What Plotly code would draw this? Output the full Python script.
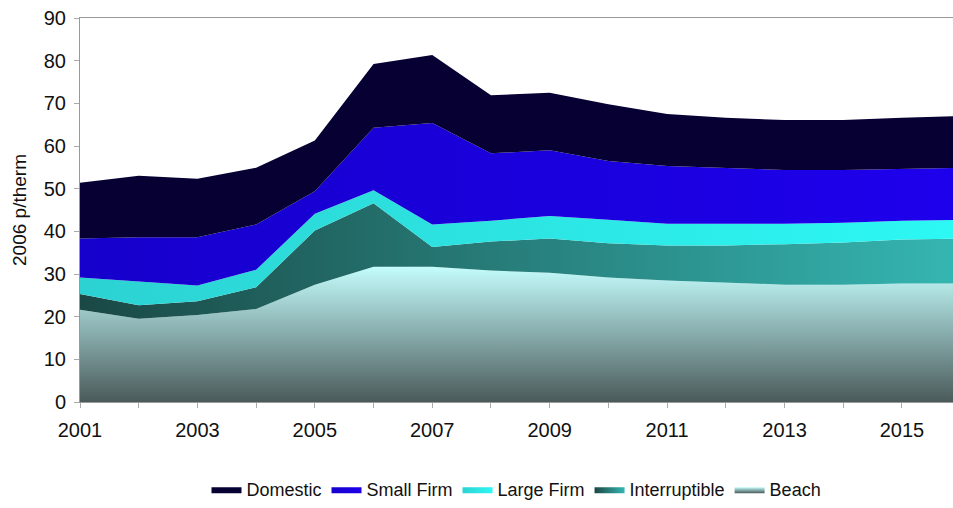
import plotly.graph_objects as go

years = list(range(2001, 2017))

beach = [21.6, 19.5, 20.4, 21.8, 27.5, 31.7, 31.7, 30.8, 30.3, 29.2, 28.5, 28.0, 27.5, 27.5, 27.8, 27.8]
interruptible = [3.7, 3.2, 3.2, 5.1, 12.7, 14.9, 4.6, 6.8, 8.0, 8.0, 8.2, 8.7, 9.5, 9.9, 10.3, 10.5]
large_firm = [3.9, 5.5, 3.7, 4.1, 3.9, 3.0, 5.3, 4.9, 5.3, 5.5, 5.1, 5.1, 4.8, 4.6, 4.4, 4.4]
small_firm = [9.1, 10.4, 11.3, 10.6, 5.3, 14.7, 23.8, 15.8, 15.4, 13.8, 13.5, 13.1, 12.6, 12.4, 12.1, 12.2]
domestic = [13.1, 14.4, 13.7, 13.3, 11.9, 14.9, 15.9, 13.6, 13.5, 13.3, 12.2, 11.7, 11.7, 11.7, 12.0, 12.1]

x_tick_vals = list(range(2001, 2017))
x_tick_text = [str(y) if (y - 2001) % 2 == 0 else "" for y in x_tick_vals]

FONT = "Liberation Sans, Arial, sans-serif"

fig = go.Figure()

fig.add_trace(go.Scatter(
    x=years, y=beach, name="Beach", stackgroup="s", mode="lines",
    line=dict(width=0),
    fillgradient=dict(type="vertical", start=0, stop=31.7,
                      colorscale=[[0, "#4a5a5a"], [1, "#c4fcfc"]]),
))
fig.add_trace(go.Scatter(
    x=years, y=interruptible, name="Interruptible", stackgroup="s", mode="lines",
    line=dict(width=0),
    fillgradient=dict(type="horizontal", start=2001, stop=2016,
                      colorscale=[[0, "#1a4845"], [1, "#35b6b2"]]),
))
fig.add_trace(go.Scatter(
    x=years, y=large_firm, name="Large Firm", stackgroup="s", mode="lines",
    line=dict(width=0),
    fillgradient=dict(type="horizontal", start=2001, stop=2016,
                      colorscale=[[0, "#2cd2d2"], [1, "#2cf8f4"]]),
))
fig.add_trace(go.Scatter(
    x=years, y=small_firm, name="Small Firm", stackgroup="s", mode="lines",
    line=dict(width=0),
    fillgradient=dict(type="horizontal", start=2001, stop=2016,
                      colorscale=[[0, "#1600cc"], [1, "#1e00ec"]]),
))
fig.add_trace(go.Scatter(
    x=years, y=domestic, name="Domestic", stackgroup="s", mode="lines",
    line=dict(width=0), fillcolor="#060033",
))

fig.update_layout(
    width=953, height=508,
    margin=dict(l=80, r=0, t=18, b=91),
    paper_bgcolor="white", plot_bgcolor="white",
    font=dict(family=FONT, size=20, color="#111111"),
    showlegend=True,
    legend=dict(orientation="h", x=0.5, xanchor="center", y=-0.228, yanchor="middle",
                traceorder="reversed", font=dict(size=18, family=FONT),
                itemwidth=30, bgcolor="rgba(0,0,0,0)"),
    xaxis=dict(range=[2001, 2015.87], tickmode="array", tickvals=x_tick_vals,
               ticktext=x_tick_text, ticks="outside", ticklen=5, tickcolor="#aaaaaa",
               showline=True, linecolor="#999999", linewidth=1, mirror=True,
               showgrid=False, zeroline=False, tickfont=dict(size=20),
               ticklabelstandoff=5, automargin=False),
    yaxis=dict(range=[0, 90], dtick=10, ticks="outside", ticklen=5, tickcolor="#aaaaaa",
               showline=True, linecolor="#999999", linewidth=1, mirror=True,
               showgrid=False, zeroline=False, tickfont=dict(size=20),
               ticklabelstandoff=4, automargin=False,
               title=dict(text="2006 p/therm", font=dict(size=19), standoff=12)),
)

page_fix = (
    "document.documentElement.style.margin='0';"
    "document.documentElement.style.overflow='hidden';"
    "document.body.style.margin='0';"
    "document.body.style.overflow='hidden';"
)

fig.write_html("out.html", config={"displayModeBar": False}, post_script=page_fix)
